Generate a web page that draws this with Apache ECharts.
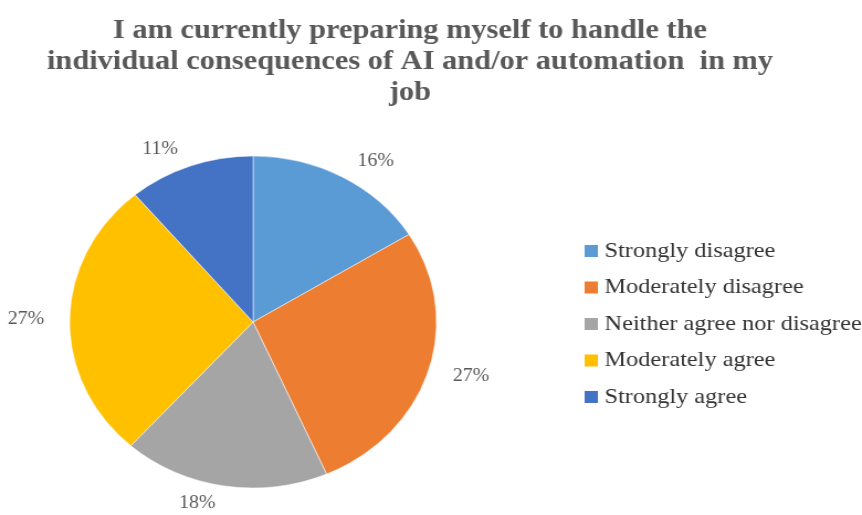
<!DOCTYPE html>
<html>
<head>
<meta charset="utf-8">
<script src="https://cdn.jsdelivr.net/npm/echarts@6/dist/echarts.min.js"></script>
<style>
html,body{margin:0;padding:0;background:#fff;overflow:hidden;}
#wrap{width:862px;height:515px;overflow:hidden;}
#c{width:780px;height:515px;transform:scaleX(1.1051);transform-origin:0 0;}
</style>
</head>
<body>
<div id="wrap"><div id="c"></div></div>
<script>
var titleText = 'I am currently preparing myself to handle the\nindividual consequences of AI and/or automation  in my\njob';
var categories = ['Strongly disagree', 'Moderately disagree', 'Neither agree nor disagree', 'Moderately agree', 'Strongly agree'];
var values = [16, 27, 18, 27, 11];
var colors = ['#5B9BD5', '#ED7D31', '#A5A5A5', '#FFC000', '#4472C4'];

var serif = 'Liberation Serif';
var chart = echarts.init(document.getElementById('c'), null, {renderer: 'canvas'});
var data = categories.map(function (n, i) { return {name: n, value: values[i]}; });
chart.setOption({
  animation: false,
  color: colors,
  textStyle: {fontFamily: serif},
  title: {
    text: titleText,
    left: 366,
    top: 10,
    textAlign: 'center',
    textStyle: {
      fontFamily: serif,
      fontWeight: 'bold',
      fontSize: 27.5,
      lineHeight: 31,
      color: '#595959'
    }
  },
  legend: {
    orient: 'vertical',
    left: 522,
    top: 235,
    icon: 'rect',
    itemWidth: 14,
    itemHeight: 14,
    itemGap: 14.5,
    data: categories,
    textStyle: {
      fontFamily: serif,
      fontSize: 22,
      color: '#333333'
    }
  },
  series: [{
    type: 'pie',
    center: [229, 322],
    radius: 166,
    startAngle: 90,
    clockwise: true,
    data: data,
    itemStyle: {borderColor: '#fff', borderWidth: 0.5},
    label: {
      show: true,
      position: 'outside',
      formatter: function (p) { return p.value + '%'; },
      fontFamily: serif,
      fontSize: 18,
      color: '#595959',
      bleedMargin: 0,
      overflow: 'none'
    },
    labelLine: {show: false, length: 18, length2: 0}
  }]
});
</script>
</body>
</html>
